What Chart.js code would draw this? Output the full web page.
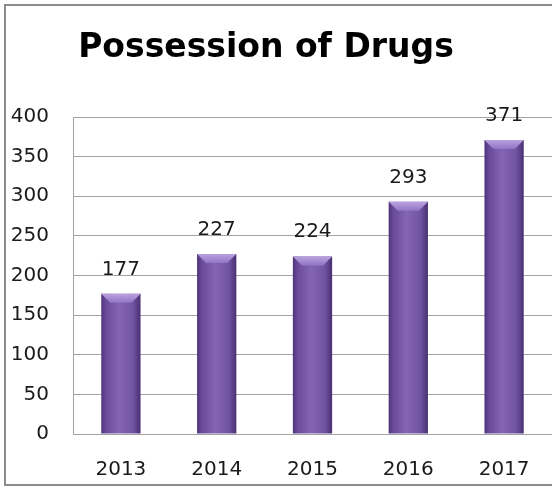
<!DOCTYPE html>
<html>
<head>
<meta charset="utf-8">
<script src="https://cdn.jsdelivr.net/npm/chart.js"></script>
<style>
  html, body { margin: 0; padding: 0; background: #fff; }
  #wrap { position: relative; width: 552px; height: 487px; overflow: hidden; }
  #frame {
    position: absolute; left: 4px; top: 4px; width: 570px; height: 478px;
    border: 2px solid #8c8c8c; pointer-events: none;
  }
  canvas { position: absolute; left: 0; top: 0; }
</style>
</head>
<body>
<div id="wrap">
  <canvas id="grafico" width="552" height="487"></canvas>
  <div id="frame"></div>
</div>
<script>
// dados do gráfico
const anos = ['2013', '2014', '2015', '2016', '2017'];
const posse = [177, 227, 224, 293, 371];
const yTicks = [0, 50, 100, 150, 200, 250, 300, 350, 400];

const fonte = '"DejaVu Sans", sans-serif';

// degradê horizontal para cada barra
function corBarra(c) {
  const chart = c.chart;
  const x = chart.scales.x;
  if (!chart.chartArea || !x) return '#7a5aa8';
  const cx = x.getPixelForValue(c.dataIndex);
  const w = x.width / anos.length * 0.41;
  const g = chart.ctx.createLinearGradient(cx - w / 2, 0, cx + w / 2, 0);
  g.addColorStop(0, '#4f3479');
  g.addColorStop(0.12, '#6a4b9a');
  g.addColorStop(0.45, '#8464b4');
  g.addColorStop(0.8, '#7354a3');
  g.addColorStop(1, '#4a3072');
  return g;
}

// título desenhado à mão (centralizado como no original)
const tituloPlugin = {
  id: 'titulo',
  afterDraw(chart) {
    const ctx = chart.ctx;
    ctx.save();
    ctx.font = 'bold 33px ' + fonte;
    ctx.fillStyle = '#000';
    ctx.textAlign = 'center';
    ctx.textBaseline = 'alphabetic';
    ctx.fillText('Possession of Drugs', 266, 57);
    ctx.restore();
  }
};

// bisel no topo + rótulos de valor
const rotulosPlugin = {
  id: 'rotulos',
  afterDatasetsDraw(chart) {
    const ctx = chart.ctx;
    const meta = chart.getDatasetMeta(0);
    ctx.save();
    meta.data.forEach((bar, i) => {
      const { x, y, width } = bar.getProps(['x', 'y', 'width'], true);
      const l = x - width / 2, r = x + width / 2, b = 9;
      const g = ctx.createLinearGradient(0, y, 0, y + b);
      g.addColorStop(0, '#b9a2e0');
      g.addColorStop(1, '#9274c4');
      ctx.fillStyle = g;
      ctx.beginPath();
      ctx.moveTo(l, y);
      ctx.lineTo(r, y);
      ctx.lineTo(r - b, y + b);
      ctx.lineTo(l + b, y + b);
      ctx.closePath();
      ctx.fill();

      ctx.font = '20px ' + fonte;
      ctx.fillStyle = '#1a1a1a';
      ctx.textAlign = 'center';
      ctx.textBaseline = 'alphabetic';
      ctx.fillText(String(posse[i]), x, y - 19);
    });
    ctx.restore();
  }
};

window.addEventListener('DOMContentLoaded', () => {
  const ctx = document.getElementById('grafico').getContext('2d');

  new Chart(ctx, {
    type: 'bar',
    data: {
      labels: anos,
      datasets: [{
        label: 'Possession of Drugs',
        data: posse,
        backgroundColor: corBarra,
        borderWidth: 0,
        categoryPercentage: 1,
        barPercentage: 0.41
      }]
    },
    options: {
      responsive: false,
      animation: false,
      layout: { padding: { top: 117, left: 0, right: 0, bottom: 0 } },
      plugins: {
        legend: { display: false },
        tooltip: { enabled: false },
        title: { display: false }
      },
      scales: {
        x: {
          grid: { display: false },
          border: { display: false },
          ticks: { color: '#1a1a1a', font: { family: fonte, size: 20 }, padding: 16 },
          afterFit(scale) { scale.height = 53; }
        },
        y: {
          min: 0,
          max: 400,
          afterBuildTicks(scale) { scale.ticks = yTicks.map(v => ({ value: v })); },
          grid: { color: '#a3a3a3', lineWidth: 1, drawTicks: false },
          border: { display: true, color: '#a3a3a3' },
          ticks: { color: '#1a1a1a', font: { family: fonte, size: 20 }, padding: 24 },
          afterFit(scale) { scale.width = 73; }
        }
      }
    },
    plugins: [tituloPlugin, rotulosPlugin]
  });
});
</script>
</body>
</html>
